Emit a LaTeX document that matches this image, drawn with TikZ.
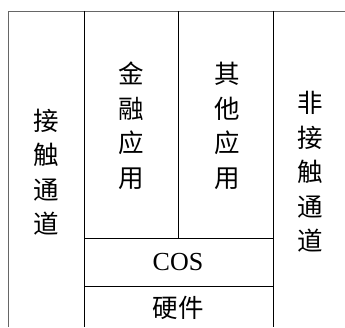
\documentclass[tikz,border=0pt]{standalone}
\usepackage{fontspec}
\setmainfont{Liberation Serif}
\newfontfamily\cjk{Noto Sans CJK SC}
\begin{document}
\begin{tikzpicture}[x=1pt,y=1pt,
  frame/.style={line width=0.9pt,black},
  vtext/.style={align=center,font=\cjk\fontsize{25.5}{34.5}\selectfont,inner sep=0pt},
  htext/.style={font=\fontsize{26}{30}\selectfont,inner sep=0pt}]
\useasboundingbox (0,0) rectangle (345,327);
% frame lines
\coordinate (tl) at (8,316);
\coordinate (tr) at (345,316);
\coordinate (bl) at (8,0);
\draw[frame,gray!80!black] (bl) -- (tl) -- (tr);
\coordinate (a1) at (84,316); \coordinate (a2) at (84,0);
\coordinate (b1) at (178,316); \coordinate (b2) at (178,89);
\coordinate (c1) at (273,316); \coordinate (c2) at (273,0);
\draw[frame] (a1) -- (a2);
\draw[frame] (b1) -- (b2);
\draw[frame] (c1) -- (c2);
\coordinate (h1a) at (84,89); \coordinate (h1b) at (273,89);
\coordinate (h2a) at (84,41); \coordinate (h2b) at (273,41);
\draw[frame] (h1a) -- (h1b);
\draw[frame] (h2a) -- (h2b);
% texts
\node[vtext] (contact) at (46,155) {接\\触\\通\\道};
\node[vtext] (fin) at (131,201) {金\\融\\应\\用};
\node[vtext] (other) at (227,201) {其\\他\\应\\用};
\node[vtext] (noncontact) at (310,155) {非\\接\\触\\通\\道};
\node[htext] (cos) at (178,65) {COS};
\node[vtext] (hw) at (178,19) {硬件};
\end{tikzpicture}
\end{document}
